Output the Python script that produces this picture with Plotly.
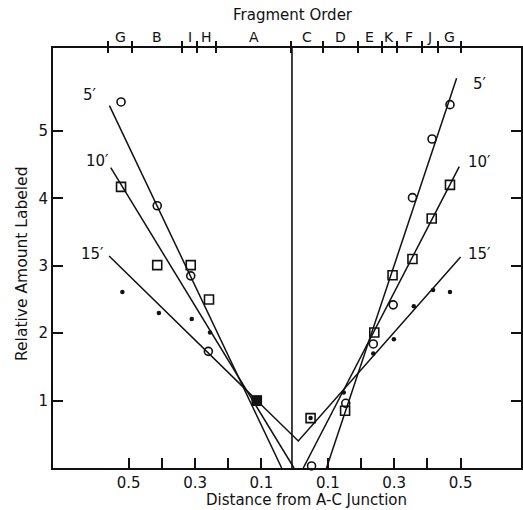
import numpy as np
import plotly.graph_objects as go

# ---------------- data ----------------
# Top axis: fragment order and fragment boundaries (distance units)
fragment_letters = ["G", "B", "I", "H", "A", "C", "D", "E", "K", "F", "J", "G"]
fragment_bounds = [-0.562, -0.490, -0.339, -0.294, -0.237, -0.010,
                   0.085, 0.191, 0.263, 0.308, 0.383, 0.431, 0.501]
junction_x = -0.008

# Bottom axis (distance from A-C junction)
dist_tickvals = [-0.5, -0.4, -0.3, -0.2, -0.1, 0.1, 0.2, 0.3, 0.4, 0.5]
dist_ticktext = ["0.5", "", "0.3", "", "0.1", "0.1", "", "0.3", "", "0.5"]
y_tickvals = [1, 2, 3, 4, 5]
y_ticktext = ["1", "2", "3", "4", "5"]

# 5 min label (open circles)
t5_x = [-0.523, -0.414, -0.313, -0.260, -0.114, 0.051, 0.154, 0.237, 0.297, 0.355, 0.414, 0.468]
t5_y = [5.43, 3.89, 2.85, 1.73, 1.00, 0.03, 0.96, 1.84, 2.42, 4.01, 4.88, 5.39]
# 10 min label (open squares)
t10_x = [-0.523, -0.414, -0.313, -0.258, -0.114, 0.048, 0.152, 0.240, 0.295, 0.355, 0.413, 0.468]
t10_y = [4.17, 3.01, 3.01, 2.50, 1.00, 0.74, 0.85, 2.01, 2.86, 3.10, 3.70, 4.20]
# 15 min label (dots)
t15_x = [-0.519, -0.409, -0.310, -0.255, -0.114, 0.048, 0.148, 0.237, 0.299, 0.359, 0.417, 0.468]
t15_y = [2.61, 2.30, 2.21, 2.01, 1.00, 0.74, 1.12, 1.70, 1.91, 2.40, 2.64, 2.61]
junction_point = 4  # index of fragment A (normalised to 1)

# fitted lines (left branch, right branch)
fit5_left_x, fit5_left_y = [-0.558, -0.039], [5.375, 0.0]
fit5_right_x, fit5_right_y = [0.096, 0.488], [0.0, 5.78]
fit10_left_x, fit10_left_y = [-0.554, -0.002], [4.455, 0.0]
fit10_right_x, fit10_right_y = [0.026, 0.496], [0.0, 4.47]
fit15_x = [-0.559, 0.011, 0.500]
fit15_y = [3.145, 0.40, 3.13]

series_labels = ["5\u2032", "10\u2032", "15\u2032"]
label_left_x = [-0.617, -0.595, -0.608]
label_left_y = [5.53, 4.55, 3.18]
label_right_x = [0.558, 0.558, 0.556]
label_right_y = [5.70, 4.54, 3.18]

# ---------------- figure ----------------
FONT = "DejaVu Sans"
BLACK = "#111111"
XR = [-0.728, 0.682]
YR = [0, 6.23]

fig = go.Figure()

line_style = dict(color=BLACK, width=1.5)
for xs, ys in [(fit5_left_x, fit5_left_y), (fit5_right_x, fit5_right_y),
               (fit10_left_x, fit10_left_y), (fit10_right_x, fit10_right_y),
               (fit15_x, fit15_y)]:
    fig.add_trace(go.Scatter(x=xs, y=ys, mode="lines", line=line_style,
                             hoverinfo="skip", cliponaxis=True))

fig.add_trace(go.Scatter(x=t5_x, y=t5_y, mode="markers", cliponaxis=False,
                         marker=dict(symbol="circle-open", size=8, color=BLACK,
                                     line=dict(width=1.6, color=BLACK))))
fig.add_trace(go.Scatter(x=t10_x, y=t10_y, mode="markers", cliponaxis=False,
                         marker=dict(symbol="square-open", size=9, color=BLACK,
                                     line=dict(width=1.6, color=BLACK))))
fig.add_trace(go.Scatter(x=t15_x, y=t15_y, mode="markers", cliponaxis=False,
                         marker=dict(symbol="circle", size=4.5, color=BLACK)))
# overlapping points at fragment A appear as a solid square
fig.add_trace(go.Scatter(x=[t10_x[junction_point]], y=[t10_y[junction_point]],
                         mode="markers", cliponaxis=False,
                         marker=dict(symbol="square", size=10, color=BLACK)))

# junction line
fig.add_shape(type="line", xref="x", yref="paper", x0=junction_x, x1=junction_x,
              y0=0, y1=1, line=dict(color=BLACK, width=1.6))

# series labels
for lab, lx, ly, rx, ry in zip(series_labels, label_left_x, label_left_y,
                               label_right_x, label_right_y):
    for xx, yy in [(lx, ly), (rx, ry)]:
        fig.add_annotation(x=xx, y=yy, xref="x", yref="y", text=lab, showarrow=False,
                           xanchor="center", yanchor="middle",
                           font=dict(family=FONT, size=15, color=BLACK))

# fragment letters between boundaries
mids = (np.array(fragment_bounds[:-1]) + np.array(fragment_bounds[1:])) / 2
for letter, m in zip(fragment_letters, mids):
    fig.add_annotation(x=float(m), y=1, xref="x", yref="paper", text=letter,
                       showarrow=False, xanchor="center", yanchor="bottom", yshift=1,
                       font=dict(family=FONT, size=14, color=BLACK))

# titles
fig.add_annotation(x=0.541, y=-0.076, xref="paper", yref="paper",
                   text="Distance from A-C Junction", showarrow=False,
                   xanchor="center", yanchor="middle",
                   font=dict(family=FONT, size=15, color=BLACK))
fig.add_annotation(x=0.513, y=1.079, xref="paper", yref="paper",
                   text="Fragment Order", showarrow=False,
                   xanchor="center", yanchor="middle",
                   font=dict(family=FONT, size=15, color=BLACK))
fig.add_annotation(x=-0.066, y=0.486, xref="paper", yref="paper",
                   text="Relative Amount Labeled", showarrow=False, textangle=-90,
                   xanchor="center", yanchor="middle",
                   font=dict(family=FONT, size=15.5, color=BLACK))

axis_common = dict(showgrid=False, zeroline=False, automargin=False,
                   linecolor=BLACK, tickcolor=BLACK)

fig.update_layout(
    template="none",
    width=523, height=510,
    margin=dict(l=53, r=2, t=48, b=42, pad=0),
    paper_bgcolor="white", plot_bgcolor="white",
    showlegend=False,
    font=dict(family=FONT, size=15, color=BLACK),
    xaxis=dict(range=XR, tickmode="array", tickvals=dist_tickvals,
               ticktext=dist_ticktext, ticks="inside", ticklen=10, tickwidth=1.5,
               showline=True, linewidth=2, mirror=False,
               tickfont=dict(family=FONT, size=15, color=BLACK), **axis_common),
    xaxis2=dict(range=XR, overlaying="x", side="top", anchor="y",
                tickmode="array", tickvals=fragment_bounds, ticks="outside",
                ticklen=5, tickwidth=1.5, showticklabels=False,
                showline=True, linewidth=2, **axis_common),
    xaxis3=dict(range=XR, overlaying="x", side="top", anchor="y",
                tickmode="array", tickvals=fragment_bounds, ticks="inside",
                ticklen=5, tickwidth=1.5, showticklabels=False,
                showline=False, **axis_common),
    yaxis=dict(range=YR, tickmode="array", tickvals=y_tickvals, ticktext=y_ticktext,
               ticks="inside", ticklen=10, tickwidth=1.5,
               showline=True, linewidth=2, mirror="ticks",
               tickfont=dict(family=FONT, size=15, color=BLACK), **axis_common),
)

# invisible traces so the overlaying top axes are rendered
for ax in ["x2", "x3"]:
    fig.add_trace(go.Scatter(x=[XR[0]], y=[YR[0]], xaxis=ax, yaxis="y",
                             mode="markers", marker=dict(opacity=0),
                             hoverinfo="skip"))

fig.write_html("out.html", config={"displayModeBar": False},
               post_script="document.body.style.margin='0';document.body.style.overflow='hidden';")
